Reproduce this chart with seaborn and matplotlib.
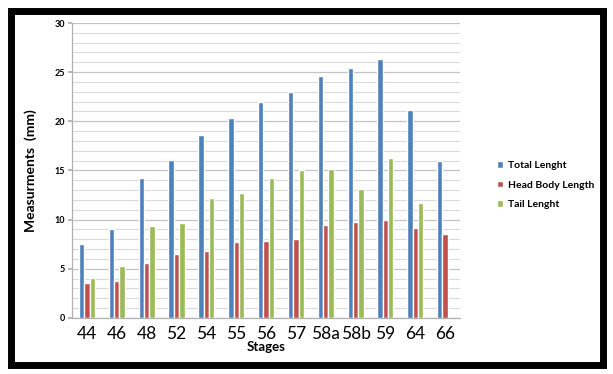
import numpy as np
import pandas as pd
import matplotlib
matplotlib.use("Agg")
import matplotlib.pyplot as plt
from matplotlib.patches import Rectangle
from matplotlib.ticker import MultipleLocator
import seaborn as sns

sns.set_theme(style="white")
plt.rcParams['font.family'] = ['Lato', 'DejaVu Sans']
plt.rcParams['text.color'] = 'black'
plt.rcParams['axes.labelcolor'] = 'black'
plt.rcParams['xtick.color'] = 'black'
plt.rcParams['ytick.color'] = 'black'

stages = ["44", "46", "48", "52", "54", "55", "56", "57", "58a", "58b", "59", "64", "66"]
total_length = [7.5, 9.0, 14.2, 16.1, 18.6, 20.3, 22.0, 23.0, 24.6, 25.4, 26.3, 21.1, 16.0]
head_body_length = [3.6, 3.8, 5.6, 6.5, 6.8, 7.7, 7.8, 8.0, 9.5, 9.8, 10.0, 9.1, 8.5]
tail_length = [4.1, 5.3, 9.3, 9.7, 12.2, 12.7, 14.2, 15.0, 15.1, 13.1, 16.3, 11.7, np.nan]

series = ["Total Lenght", "Head Body Length", "Tail Lenght"]
colors = ["#4F81BD", "#C0504D", "#9BBB59"]

df = pd.DataFrame({
    "stage": stages * 3,
    "value": total_length + head_body_length + tail_length,
    "series": [series[0]] * 13 + [series[1]] * 13 + [series[2]] * 13,
})

fig = plt.figure(figsize=(6.13, 3.74), dpi=100)
ax = fig.add_axes([0.1175, 0.15, 0.633, 0.7885])

sns.barplot(data=df, x="stage", y="value", hue="series", hue_order=series,
            palette=colors, width=0.54, ax=ax, zorder=3, saturation=1)

ax.set_ylim(0, 30)
ax.set_xlim(-0.5, len(stages) - 0.5)
ax.yaxis.set_major_locator(MultipleLocator(5))
ax.yaxis.set_minor_locator(MultipleLocator(1))
ax.grid(True, which="major", axis="y", color="#c4c4c4", lw=0.9, zorder=0)
ax.grid(True, which="minor", axis="y", color="#dadada", lw=0.8, zorder=0)
ax.set_axisbelow(True)

for s in ["top", "right"]:
    ax.spines[s].set_visible(False)
for s in ["left", "bottom"]:
    ax.spines[s].set_color("#b0b0b0")
    ax.spines[s].set_linewidth(0.9)

ax.tick_params(axis="y", which="major", left=True, length=3, color="#b0b0b0",
               labelsize=6.5, pad=2)
ax.tick_params(axis="x", bottom=False, labelsize=12.5, pad=0)
for lbl in ax.get_yticklabels():
    lbl.set_fontweight("bold")

ax.set_xlabel("Stages", fontsize=9.5, fontweight="bold", labelpad=-1)
ax.set_ylabel("Measurments  (mm)", fontsize=10, fontweight="bold", labelpad=13)

leg = ax.legend(loc="center left", bbox_to_anchor=(1.07, 0.45), frameon=False,
                fontsize=7.5, handlelength=0.6, handleheight=0.6, handletextpad=0.5,
                labelspacing=1.0)
for t in leg.get_texts():
    t.set_fontweight("bold")

fig.patches.append(Rectangle((11 / 613, 9 / 374), 592 / 613, 354 / 374,
                             transform=fig.transFigure, fill=False,
                             edgecolor="black", lw=5))

fig.savefig("out.png", dpi=100)
